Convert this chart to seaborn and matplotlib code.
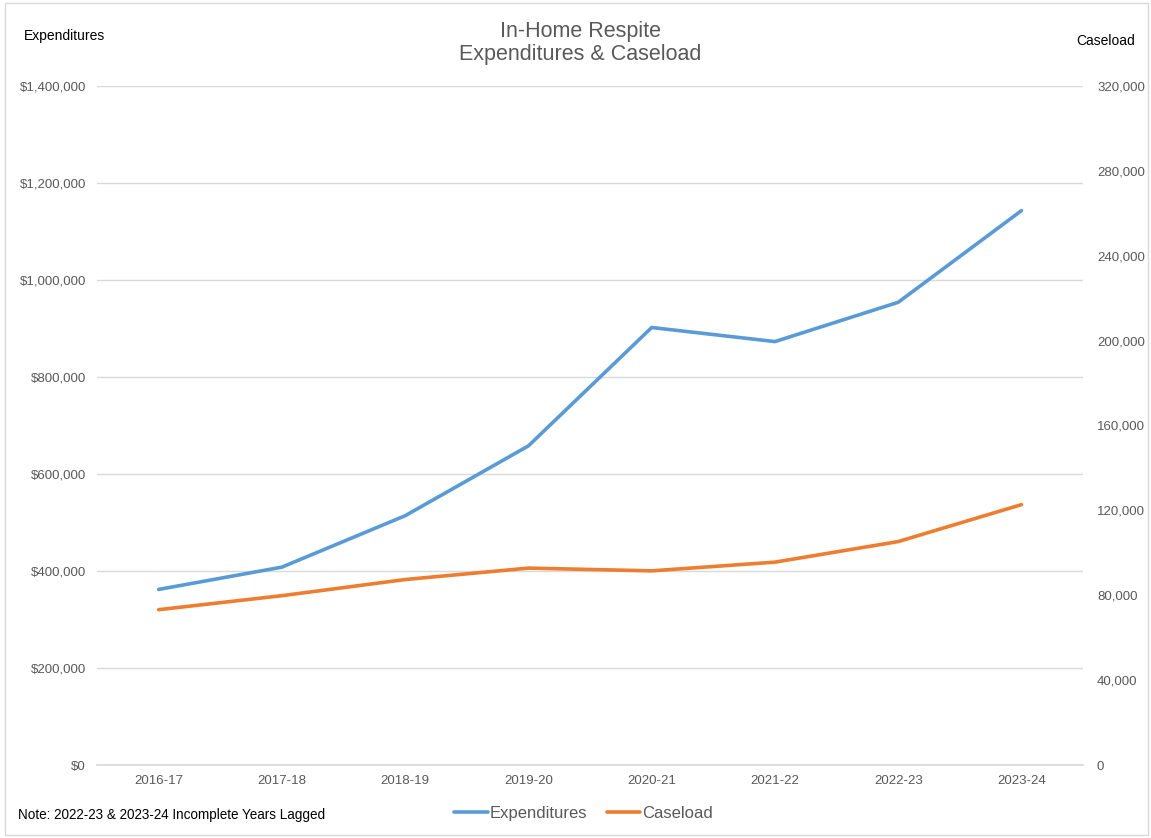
import matplotlib
matplotlib.use("Agg")
import matplotlib.pyplot as plt
from matplotlib.ticker import FuncFormatter, FixedLocator
from matplotlib.lines import Line2D
from matplotlib.patches import Rectangle
import seaborn as sns
import pandas as pd

# Fiscal years and series values
years = ["2016-17", "2017-18", "2018-19", "2019-20", "2020-21", "2021-22", "2022-23", "2023-24"]
expenditures = [362000, 408000, 514000, 658000, 902000, 873000, 954000, 1143000]
caseload = [73200, 79800, 87400, 92800, 91500, 95600, 105300, 122700]

left_ticks = [0, 200000, 400000, 600000, 800000, 1000000, 1200000, 1400000]
right_ticks = [0, 40000, 80000, 120000, 160000, 200000, 240000, 280000, 320000]

sns.set_theme(style="white")
plt.rcParams["font.family"] = ["Liberation Sans", "DejaVu Sans"]

BLUE = "#5B9BD5"
ORANGE = "#ED7D31"
GRAY = "#595959"

df = pd.DataFrame({"year": years, "Expenditures": expenditures, "Caseload": caseload})
df["pos"] = range(len(years))

fig = plt.figure(figsize=(11.51, 8.38), dpi=100)
ax = fig.add_axes([0.0843, 0.0871, 0.8567, 0.8103])
ax2 = ax.twinx()

sns.lineplot(data=df, x="pos", y="Expenditures", ax=ax, color=BLUE, linewidth=2.6, legend=False)
sns.lineplot(data=df, x="pos", y="Caseload", ax=ax2, color=ORANGE, linewidth=2.6, legend=False)

ax.set_xlim(-0.5, len(years) - 0.5)
ax.set_ylim(0, 1400000)
ax2.set_ylim(0, 320000)
ax.yaxis.set_major_locator(FixedLocator(left_ticks))
ax2.yaxis.set_major_locator(FixedLocator(right_ticks))
ax.yaxis.set_major_formatter(FuncFormatter(lambda v, p: f"${v:,.0f}"))
ax2.yaxis.set_major_formatter(FuncFormatter(lambda v, p: f"{v:,.0f}"))
ax.set_xticks(range(len(years)))
ax.set_xticklabels(years)

ax.grid(axis="y", color="#D9D9D9", linewidth=1)
ax.grid(axis="x", visible=False)
ax2.grid(False)
for a in (ax, ax2):
    for s in a.spines.values():
        s.set_visible(False)
    a.set_xlabel("")
    a.set_ylabel("")
ax.spines["bottom"].set_visible(True)
ax.spines["bottom"].set_color("#D9D9D9")

ax.tick_params(axis="both", length=0, labelsize=9.5, labelcolor=GRAY, pad=8)
ax.tick_params(axis="x", pad=7)
ax2.tick_params(axis="y", length=0, labelsize=9.5, labelcolor=GRAY, pad=10)

fig.text(0.504, 0.963, "In-Home Respite", ha="center", va="center", fontsize=15.5, color=GRAY)
fig.text(0.504, 0.935, "Expenditures & Caseload", ha="center", va="center", fontsize=15.5, color=GRAY)
fig.text(0.021, 0.957, "Expenditures", ha="left", va="center", fontsize=10, color="black")
fig.text(0.986, 0.951, "Caseload", ha="right", va="center", fontsize=10, color="black")
fig.text(0.016, 0.027, "Note: 2022-23 & 2023-24 Incomplete Years Lagged", ha="left", va="center",
         fontsize=9.75, color="black")

handles = [Line2D([0], [0], color=BLUE, lw=2.6), Line2D([0], [0], color=ORANGE, lw=2.6)]
fig.legend(handles, ["Expenditures", "Caseload"], loc="center", bbox_to_anchor=(0.507, 0.029),
           ncol=2, frameon=False, fontsize=12, labelcolor=GRAY, handlelength=2.0,
           handletextpad=0.1, columnspacing=1.2)

fig.patches.append(Rectangle((0.004, 0.003), 0.993, 0.993, transform=fig.transFigure,
                             fill=False, edgecolor="#D9D9D9", linewidth=1))

fig.savefig("out.png", dpi=100)
